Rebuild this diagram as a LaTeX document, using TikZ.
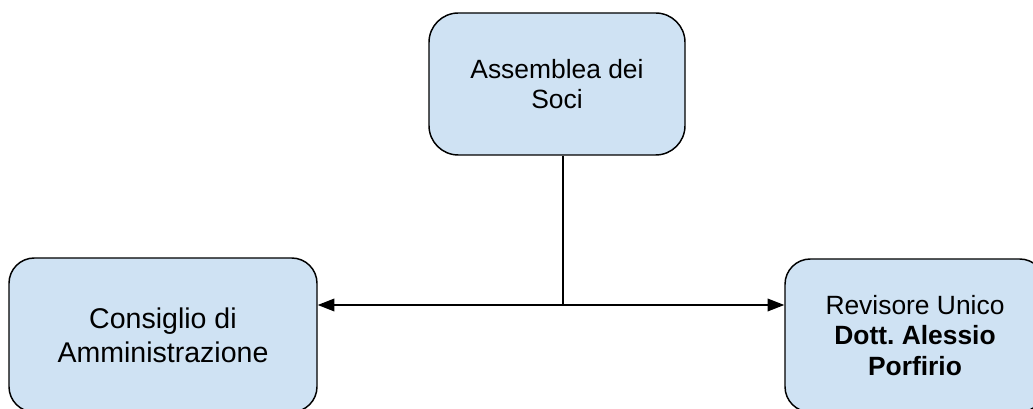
\documentclass[tikz,border=0pt]{standalone}
\usepackage{fontspec}
\setmainfont{Liberation Sans}
\usetikzlibrary{arrows.meta,positioning,calc}
\definecolor{boxblue}{RGB}{207,226,243}
\frenchspacing

\begin{document}
\begin{tikzpicture}[x=0.75pt, y=-0.75pt, >={Triangle[length=12.5pt,width=9.5pt]}, line width=1.1pt]

		% Page frame
		\useasboundingbox (0,0) rectangle (1033,409);

		\tikzstyle{organ}=[draw=black,fill=boxblue,line width=1.1pt,align=center,inner sep=0pt]
		\tikzstyle{small text}=[font=\fontsize{19.8}{22.8}\selectfont]
		\tikzstyle{big text}=[font=\fontsize{21.4}{25.5}\selectfont]

		\node[organ, small text, rounded corners=22pt, minimum width=192pt, minimum height=106.5pt] (assemblea) at (557, 84) {Assemblea dei\\Soci};
		\node[organ, big text, rounded corners=19pt, minimum width=231pt, minimum height=115.5pt] (consiglio) at (163, 335) {Consiglio di\\Amministrazione};
		\node[organ, small text, rounded corners=19pt, minimum width=195pt, minimum height=114.75pt] (revisore) at (915, 335.5) {Revisore Unico\\\textbf{Dott. Alessio}\\\textbf{Porfirio}};

		% Branch point below the assembly
		\coordinate (snodo) at (563, 305);

		\draw (assemblea.south -| snodo) -- (snodo);
		\draw[->] (snodo) -- (snodo -| consiglio.east);
		\draw[->] (snodo) -- (snodo -| revisore.west);

	\end{tikzpicture}
\end{document}
